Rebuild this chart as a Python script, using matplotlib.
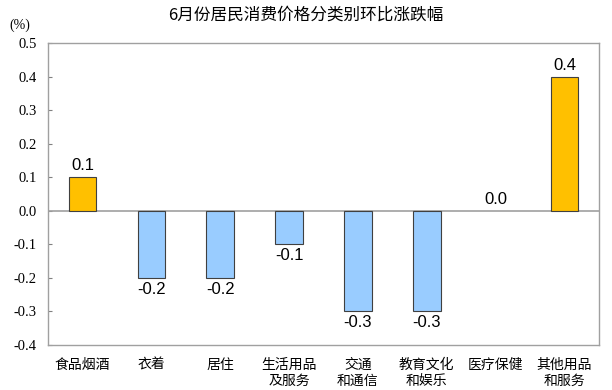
import matplotlib
matplotlib.use("Agg")
import matplotlib.pyplot as plt

plt.rcParams['font.family'] = ['Noto Sans CJK SC', 'DejaVu Sans']

categories = ["食品烟酒", "衣着", "居住", "生活用品\n及服务", "交通\n和通信", "教育文化\n和娱乐", "医疗保健", "其他用品\n和服务"]
values = [0.1, -0.2, -0.2, -0.1, -0.3, -0.3, 0.0, 0.4]
yticks = [0.5, 0.4, 0.3, 0.2, 0.1, 0.0, -0.1, -0.2, -0.3, -0.4]

fig = plt.figure(figsize=(6.12, 3.90), dpi=100)
ax = fig.add_axes([48/612, 1-345/390, 551/612, 302/390])

colors = ['#FFC000' if v > 0 else '#99CCFF' for v in values]
lws = [0.8 if v != 0 else 0 for v in values]
x = list(range(len(values)))
ax.bar(x, values, width=0.4, color=colors, edgecolor='#404040', linewidth=lws, zorder=3)
ax.axhline(0, color='#A0A0A0', linewidth=1.2, zorder=2)

for xi, v in zip(x, values):
    if v < 0:
        ax.text(xi, v - 0.012, f"{v:.1f}", ha='center', va='top', fontsize=12, family='Liberation Sans')
    else:
        ax.text(xi, v + 0.012, f"{v:.1f}", ha='center', va='bottom', fontsize=12, family='Liberation Sans')

ax.set_xlim(-0.5, len(values) - 0.5)
ax.set_ylim(-0.4, 0.5)
ax.set_yticks(yticks)
ax.set_yticklabels([f"{t:.1f}" for t in yticks], family='Liberation Serif', fontsize=10.5)
ax.tick_params(axis='y', direction='in', length=3, color='#808080', pad=8)
ax.set_xticks(x)
ax.set_xticklabels(categories, fontsize=10, linespacing=1.25, va='top')
ax.tick_params(axis='x', length=0, pad=9)
for s in ax.spines.values():
    s.set_color('#A0A0A0')
    s.set_linewidth(1.0)

fig.text(0.5, 1-15/390, "6月份居民消费价格分类别环比涨跌幅", ha='center', va='center', fontsize=12)
fig.text(20/612, 1-25/390, "(%)", ha='center', va='center', fontsize=10, family='Liberation Serif')

fig.savefig("out.png", dpi=100)
